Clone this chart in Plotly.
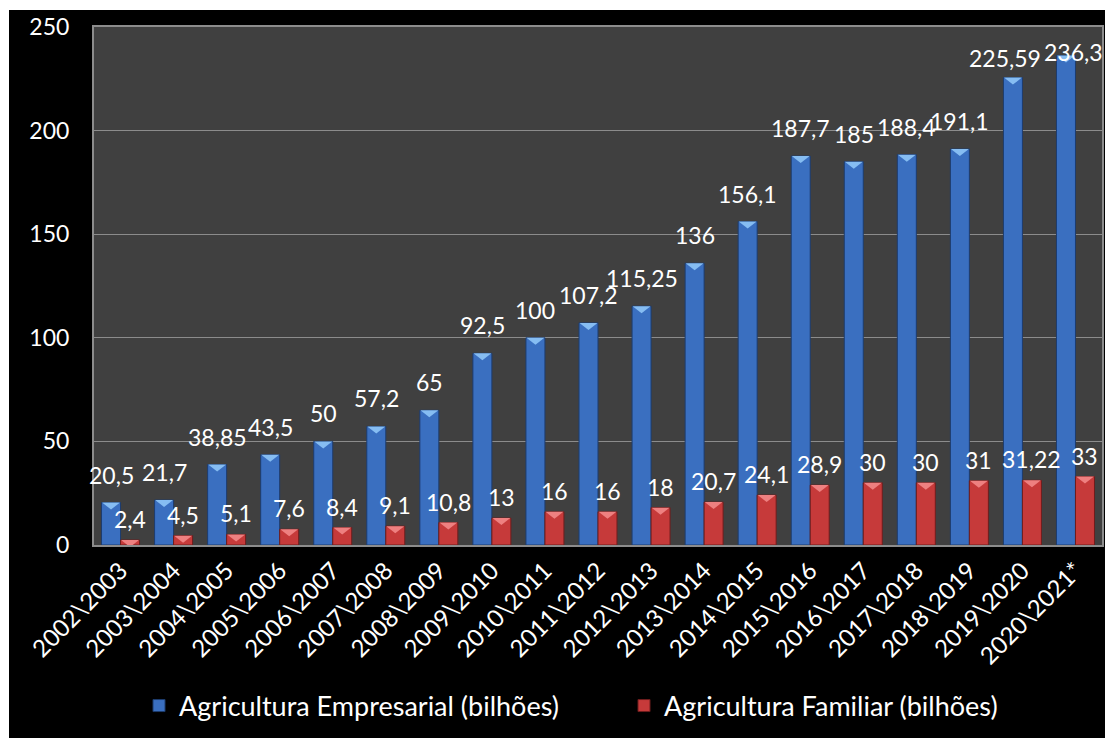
import plotly.graph_objects as go

safras = ["2002\\2003", "2003\\2004", "2004\\2005", "2005\\2006", "2006\\2007",
          "2007\\2008", "2008\\2009", "2009\\2010", "2010\\2011", "2011\\2012",
          "2012\\2013", "2013\\2014", "2014\\2015", "2015\\2016", "2016\\2017",
          "2017\\2018", "2018\\2019", "2019\\2020", "2020\\2021*"]
empresarial = [20.5, 21.7, 38.85, 43.5, 50, 57.2, 65, 92.5, 100, 107.2,
               115.25, 136, 156.1, 187.7, 185, 188.4, 191.1, 225.59, 236.3]
familiar = [2.4, 4.5, 5.1, 7.6, 8.4, 9.1, 10.8, 13, 16, 16,
            18, 20.7, 24.1, 28.9, 30, 30, 31, 31.22, 33]
y_ticks = [0, 50, 100, 150, 200, 250]

FONT = "Lato"
BAR_W = 0.358
Y_MAX = 250
idx = list(range(len(safras)))


def br(v):
    s = f"{v:.2f}".rstrip("0").rstrip(".")
    return s.replace(".", ",")


fig = go.Figure()
fig.add_trace(go.Bar(
    name="Agricultura Empresarial (bilhões)", x=idx, y=empresarial,
    width=BAR_W, offset=-BAR_W,
    marker=dict(color="#3a6fc0", line=dict(color="#1d3c6e", width=1)),
))
fig.add_trace(go.Bar(
    name="Agricultura Familiar (bilhões)", x=idx, y=familiar,
    width=BAR_W, offset=0,
    marker=dict(color="#c63a3a", line=dict(color="#6e1d1d", width=1)),
))

# value labels above each bar; labels close to the top edge are squeezed
# down and spread sideways so they stay inside the chart and apart
annotations = []
for series, shift, lift in ((empresarial, -BAR_W / 2, 12), (familiar, BAR_W / 2, 5)):
    for i, v in zip(idx, series):
        room = (Y_MAX - v) / Y_MAX * 518
        if room < 35:
            dy, dx = room - 41, 8
        elif room < 60:
            dy, dx = 4, -8
        else:
            dy, dx = lift, 0
        annotations.append(dict(
            x=i + shift, y=v, xref="x", yref="y", text=br(v), showarrow=False,
            yanchor="bottom", yshift=dy, xshift=dx,
            font=dict(family=FONT, size=23, color="white"),
        ))

# bevel highlight on top of each bar
shapes = []
for series, shift, col in ((empresarial, -BAR_W / 2, "#86bdf2"),
                           (familiar, BAR_W / 2, "#ee8080")):
    for i, v in zip(idx, series):
        shapes.append(dict(
            type="path", xref="x", yref="y", xsizemode="pixel", ysizemode="pixel",
            xanchor=i + shift, yanchor=v,
            path="M-9,0 L9,0 L0,-7 Z",
            fillcolor=col, line=dict(width=0), layer="above",
        ))

# white strips framing the black chart area
L, T, R, B, W, H = 94, 27, 3, 193, 1105, 738
pw, ph = W - L - R, H - T - B
def px_x(p):
    return (p - L) / pw
def px_y(p):
    return (H - B - p) / ph
shapes.append(dict(type="rect", xref="paper", yref="paper",
                   x0=px_x(-2), x1=px_x(9), y0=px_y(H + 2), y1=px_y(-2),
                   fillcolor="white", line=dict(width=0), layer="above"))
shapes.append(dict(type="rect", xref="paper", yref="paper",
                   x0=px_x(-2), x1=px_x(W + 2), y0=px_y(10), y1=px_y(-2),
                   fillcolor="white", line=dict(width=0), layer="above"))

fig.update_layout(
    width=W, height=H,
    margin=dict(l=L, r=R, t=T, b=B, autoexpand=False),
    paper_bgcolor="black", plot_bgcolor="#404040",
    font=dict(family=FONT, size=22, color="white"),
    barmode="overlay",
    showlegend=True,
    legend=dict(orientation="h", x=px_x(624), xanchor="center",
                y=px_y(706), yanchor="middle",
                font=dict(family=FONT, size=27, color="white"),
                entrywidth=440, bgcolor="rgba(0,0,0,0)"),
    shapes=shapes,
    annotations=annotations,
)
fig.update_xaxes(
    range=[-0.5, len(safras) - 0.5], tickvals=idx, ticktext=safras,
    tickangle=-45, tickfont=dict(family=FONT, size=24, color="white"),
    showgrid=False, zeroline=False, showline=True, mirror=True,
    linecolor="#8c8c8c", linewidth=2, ticks="", automargin=False,
)
fig.update_yaxes(
    range=[0, Y_MAX], tickvals=y_ticks,
    tickfont=dict(family=FONT, size=23, color="white"),
    showgrid=True, gridcolor="#8c8c8c", gridwidth=1, zeroline=False,
    showline=True, mirror=True, linecolor="#8c8c8c", linewidth=2,
    ticks="", ticklabelstandoff=18, automargin=False,
)

fig.write_html("out.html")
